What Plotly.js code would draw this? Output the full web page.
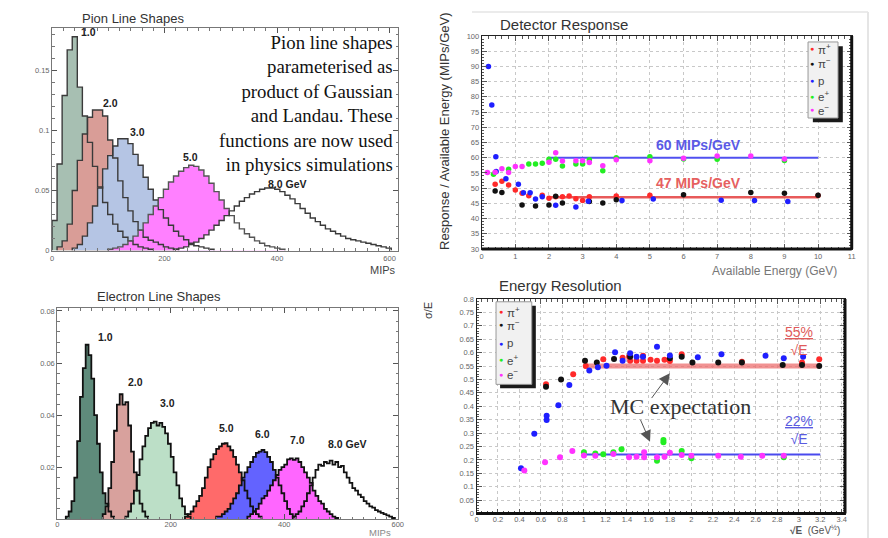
<!DOCTYPE html>
<html><head><meta charset="utf-8">
<script src="https://cdn.plot.ly/plotly-3.0.1.min.js"></script>
<style>html,body{margin:0;padding:0;background:#fff;}#chart{width:888px;height:538px;}</style>
</head><body><div id="chart"></div>
<script>
// ---------------- DATA ----------------
// Pion line shapes (bin width 9 MIPs)
const pionBinWidth = 9;
const pion1Start = 0;
const pion1 = [0.025,0.072,0.129,0.167,0.178,0.136,0.112,0.09,0.07,0.053,0.04,0.03,0.022,0.016,0.011,0.008,0.005,0.003,0.002,0.001];
const pion2Start = 9;
const pion2 = [0.003,0.008,0.022,0.05,0.075,0.097,0.111,0.117,0.117,0.112,0.092,0.077,0.058,0.044,0.033,0.024,0.017,0.011,0.0085,0.007,0.005,0.003,0.002,0.001];
const pion3Start = 36;
const pion3 = [0.002,0.005,0.012,0.023,0.037,0.052,0.068,0.079,0.087,0.093,0.093,0.089,0.08,0.071,0.061,0.051,0.042,0.034,0.027,0.021,0.016,0.012,0.009,0.006,0.004,0.003,0.002,0.001];
const pion5Start = 99;
const pion5 = [0.001,0.002,0.003,0.005,0.008,0.012,0.017,0.023,0.03,0.037,0.044,0.051,0.057,0.062,0.066,0.069,0.071,0.07,0.067,0.062,0.056,0.049,0.042,0.035,0.029,0.023,0.018,0.014,0.011,0.008,0.006,0.004,0.003,0.002,0.001];
const pion8Start = 216;
const pion8 = [0.001,0.002,0.003,0.005,0.007,0.01,0.013,0.017,0.021,0.025,0.029,0.033,0.037,0.041,0.044,0.047,0.049,0.051,0.052,0.052,0.051,0.049,0.046,0.043,0.039,0.035,0.031,0.027,0.024,0.021,0.018,0.016,0.014,0.012,0.01,0.009,0.008,0.007,0.006,0.005,0.004,0.003,0.002];
const pionLabels = ["1.0","2.0","3.0","5.0","8.0 GeV"];

// Electron line shapes (bin width 5 MIPs)
const elecBinWidth = 5;
const elec1Start = 15;
const elec1 = [0.001,0.003,0.007,0.016,0.030,0.047,0.058,0.067,0.063,0.054,0.040,0.029,0.018,0.010,0.006,0.003,0.001];
const elec2Start = 80;
const elec2 = [0.002,0.005,0.012,0.022,0.034,0.044,0.048,0.044,0.045,0.036,0.026,0.018,0.011,0.006,0.003,0.001];
const elec3Start = 120;
const elec3 = [0.001,0.003,0.006,0.011,0.017,0.023,0.028,0.032,0.035,0.037,0.0375,0.036,0.037,0.0355,0.033,0.029,0.024,0.018,0.013,0.008,0.005,0.002,0.001];
const elec5Start = 225;
const elec5 = [0.001,0.002,0.003,0.005,0.007,0.009,0.012,0.016,0.02,0.023,0.025,0.027,0.028,0.029,0.0292,0.028,0.0265,0.024,0.021,0.018,0.015,0.011,0.008,0.005,0.003,0.002,0.001];
const elec6Start = 280;
const elec6 = [0.001,0.001,0.002,0.003,0.004,0.006,0.008,0.01,0.013,0.016,0.018,0.02,0.022,0.024,0.0255,0.026,0.0266,0.0258,0.024,0.022,0.019,0.016,0.013,0.01,0.007,0.004,0.002,0.001];
const elec7Start = 335;
const elec7 = [0.001,0.002,0.003,0.004,0.006,0.008,0.009,0.011,0.013,0.015,0.017,0.019,0.02,0.021,0.023,0.0234,0.0228,0.0234,0.022,0.02,0.018,0.016,0.014,0.011,0.009,0.007,0.006,0.004,0.003,0.002,0.001,0.0005];
const elec8Start = 415;
const elec8 = [0.001,0.002,0.003,0.005,0.007,0.01,0.013,0.016,0.019,0.021,0.0205,0.022,0.0215,0.0225,0.021,0.022,0.02,0.0205,0.018,0.016,0.014,0.012,0.011,0.0095,0.0085,0.007,0.006,0.005,0.0045,0.0035,0.003,0.0025,0.002,0.0015,0.001,0.0005];
const elecLabels = ["1.0","2.0","3.0","5.0","6.0","7.0","8.0 GeV"];

// Detector response (MIPs/GeV vs available energy)
const respPiPlusX = [0.4,0.6,0.8,1.0,1.2,1.4,1.8,2.0,2.2,2.4,2.6,2.8,3.0,3.2,4.0,5.0,10.0];
const respPiPlusY = [51.3,52.3,51.0,49.4,48.3,47.5,47.7,46.7,47.2,47.2,47.4,46.5,45.9,47.2,47.4,47.7,47.6];
const respPiMinusX = [0.4,0.6,1.2,1.6,2.0,2.2,2.4,3.2,3.6,4.0,6.0,8.0,9.0,10.0];
const respPiMinusY = [49.1,48.6,44.5,44.1,44.5,47.3,45.1,45.6,45.1,46.2,47.8,48.6,48.3,47.7];
const respPX = [0.2,0.3,0.42,0.43,0.72,1.09,1.24,1.44,1.6,1.8,2.2,2.8,3.17,4.17,5.1,7.12,8.11,9.1];
const respPY = [90,77.3,60.3,55.5,53.1,51.3,48.5,48.5,46.4,47.2,44.4,43.8,45.7,45.9,46.4,46.0,45.9,45.6];
const respEPlusX = [0.35,0.8,1.4,1.6,1.8,2.0,2.2,2.4,2.8,3.0,3.2,3.6,4.0,5.0,6.0,7.0,9.0];
const respEPlusY = [54.6,56.2,57.9,57.9,58.2,59.5,59.5,57.3,57.9,57.9,59.3,55.7,60.0,60.3,59.6,59.5,59.1];
const respEMinusX = [0.17,0.4,0.6,0.8,1.0,1.2,2.0,2.2,2.4,2.8,3.0,3.2,3.6,4.0,5.0,6.0,7.0,8.0,9.0];
const respEMinusY = [55.1,55.2,56.4,55.1,57.1,57.1,58.5,61.6,58.9,59.0,59.0,58.4,57.4,59.3,59.0,59.8,60.6,60.6,59.6];
const respFitX = [2,10];
const respFitElectron = 60;
const respFitPion = 47;

// Energy resolution (sigma/E vs sqrt(E))
const resPiPlusX = [0.647,0.90,1.017,1.18,1.36,1.42,1.43,1.49,1.55,1.55,1.62,1.68,1.75,1.80,1.91,2.47,3.03,3.19];
const resPiPlusY = [0.482,0.519,0.55,0.575,0.581,0.585,0.57,0.57,0.57,0.588,0.573,0.57,0.573,0.569,0.594,0.566,0.563,0.575];
const resPiMinusX = [0.647,0.787,1.01,1.12,1.28,1.43,1.80,1.91,2.01,2.25,2.47,2.85,3.03,3.19];
const resPiMinusY = [0.473,0.50,0.570,0.563,0.576,0.585,0.579,0.585,0.563,0.563,0.563,0.554,0.554,0.55];
const resPX = [0.414,0.538,0.653,0.653,0.762,0.864,1.05,1.13,1.21,1.29,1.36,1.43,1.49,1.55,1.68,1.80,2.06,2.28,2.69,2.86,3.04];
const resPY = [0.169,0.297,0.365,0.349,0.404,0.479,0.533,0.545,0.551,0.601,0.57,0.598,0.585,0.585,0.622,0.589,0.583,0.594,0.588,0.579,0.585];
const resEPlusX = [1.0,1.106,1.18,1.274,1.35,1.68,1.74,1.74,1.91,2.0,2.86];
const resEPlusY = [0.228,0.224,0.221,0.228,0.24,0.197,0.274,0.266,0.233,0.206,0.21];
const resEMinusX = [0.445,0.638,0.777,0.892,1.0,1.106,1.274,1.42,1.49,1.56,1.56,1.68,1.75,1.80,1.91,2.0,2.25,2.46,2.66,2.86];
const resEMinusY = [0.160,0.191,0.21,0.233,0.216,0.215,0.222,0.21,0.212,0.228,0.21,0.21,0.212,0.227,0.218,0.215,0.215,0.212,0.215,0.215];
const resFitX = [1,3.2];
const resFitHadron = 0.55;
const resFitElectron = 0.22;

const legendLabels = ["π<sup>+</sup>","π<sup>−</sup>","p","e<sup>+</sup>","e<sup>−</sup>"];

// ---------------- HELPERS ----------------
const W=888,H=538;
const px = x => x/W;
const py = y => 1-y/H;
function hist(start,w,vals){
  const x=[start], y=[0];
  vals.forEach((v,i)=>{x.push(start+i*w); y.push(v);});
  x.push(start+vals.length*w); y.push(0);
  return {x,y};
}
const traces=[];
function addHists(list,w,xa,ya,lineColor,lineWidth){
  list.forEach(h=>{
    if(!h.fill) return;
    const d=hist(h.start,w,h.vals);
    traces.push({type:'scatter',mode:'lines',x:d.x,y:d.y,xaxis:xa,yaxis:ya,line:{shape:'hv',width:0,color:h.fill},fill:'tozeroy',fillcolor:h.fill,hoverinfo:'skip'});
  });
  list.forEach(h=>{
    const d=hist(h.start,w,h.vals);
    traces.push({type:'scatter',mode:'lines',x:d.x,y:d.y,xaxis:xa,yaxis:ya,line:{shape:'hv',width:lineWidth,color:h.line||lineColor},hoverinfo:'skip'});
  });
}
addHists([
  {start:pion1Start,vals:pion1,fill:'#a7bfb2'},
  {start:pion2Start,vals:pion2,fill:'#d99d97'},
  {start:pion3Start,vals:pion3,fill:'#b5c5e4'},
  {start:pion5Start,vals:pion5,fill:'#ff80ff',line:'#555'},
  {start:pion8Start,vals:pion8,fill:'#ffffff'}
],pionBinWidth,'x','y','#3a3a3a',1.4);
addHists([
  {start:elec1Start,vals:elec1,fill:'#5f8b7b'},
  {start:elec2Start,vals:elec2,fill:'#d8a19d'},
  {start:elec3Start,vals:elec3,fill:'#bcdfc7'},
  {start:elec5Start,vals:elec5,fill:'#ff6a6a'},
  {start:elec6Start,vals:elec6,fill:'#6363ff'},
  {start:elec7Start,vals:elec7,fill:'#ff66ff'},
  {start:elec8Start,vals:elec8,fill:null}
],elecBinWidth,'x3','y3','#111',1.8);

const cRed='#ff2a2a',cBlack='#111111',cBlue='#1f1fff',cGreen='#22ee22',cMag='#ff33ff';
const markerColors=[cRed,cBlack,cBlue,cGreen,cMag];
// detector response fit lines
traces.push({type:'scatter',mode:'lines',x:respFitX,y:respFitX.map(()=>respFitPion),xaxis:'x2',yaxis:'y2',line:{color:'#e85a5a',width:2.5},hoverinfo:'skip'});
traces.push({type:'scatter',mode:'lines',x:respFitX,y:respFitX.map(()=>respFitElectron),xaxis:'x2',yaxis:'y2',line:{color:'#5050f0',width:2},hoverinfo:'skip'});
[[respPiPlusX,respPiPlusY],[respPiMinusX,respPiMinusY],[respPX,respPY],[respEPlusX,respEPlusY],[respEMinusX,respEMinusY]].forEach((s,i)=>{
  traces.push({type:'scatter',mode:'markers',x:s[0],y:s[1],xaxis:'x2',yaxis:'y2',marker:{color:markerColors[i],size:5.5,symbol:'circle'},hoverinfo:'skip'});
});
// energy resolution fit lines
traces.push({type:'scatter',mode:'lines',x:resFitX,y:resFitX.map(()=>resFitHadron),xaxis:'x4',yaxis:'y4',line:{color:'rgba(236,110,110,0.75)',width:5},hoverinfo:'skip'});
traces.push({type:'scatter',mode:'lines',x:resFitX,y:resFitX.map(()=>resFitElectron),xaxis:'x4',yaxis:'y4',line:{color:'#4a4aee',width:2},hoverinfo:'skip'});
[[resPiPlusX,resPiPlusY],[resPiMinusX,resPiMinusY],[resPX,resPY],[resEPlusX,resEPlusY],[resEMinusX,resEMinusY]].forEach((s,i)=>{
  traces.push({type:'scatter',mode:'markers',x:s[0],y:s[1],xaxis:'x4',yaxis:'y4',marker:{color:markerColors[i],size:6,symbol:'circle'},hoverinfo:'skip'});
});

// ---------------- AXES ----------------
const tickFont={family:'Liberation Sans, Arial, sans-serif',size:7.5,color:'#666'};
function ax(o){
  return Object.assign({showline:true,mirror:'ticks',ticks:'inside',ticklen:5,tickcolor:'#555',linecolor:'#777',linewidth:1,
    showgrid:false,zeroline:false,tickfont:tickFont,fixedrange:true},o);
}
const gridOpts={showgrid:true,gridcolor:'#c8c8c8',griddash:'dot',gridwidth:1};

const layout={
  width:W,height:H,margin:{l:0,r:0,t:0,b:0},paper_bgcolor:'#fff',plot_bgcolor:'#fff',showlegend:false,
  font:{family:'Liberation Sans, Arial, sans-serif',color:'#333'},
  xaxis:ax({domain:[px(52),px(398)],anchor:'y',range:[0,615],tickvals:[0,200,400,600],minor:{ticks:'inside',ticklen:2.5,dtick:20,tickcolor:'#777'}}),
  yaxis:ax({domain:[py(250.5),py(28.3)],anchor:'x',range:[0,0.185],tickvals:[0,0.05,0.1,0.15],ticktext:['0','0.05','0.1','0.15'],minor:{ticks:'inside',ticklen:2.5,dtick:0.01,tickcolor:'#777'}}),
  xaxis2:ax(Object.assign({domain:[px(481.7),px(851.7)],anchor:'y2',range:[0,11],dtick:1,linecolor:'#222',minor:{ticks:'inside',ticklen:2.5,dtick:0.2,tickcolor:'#555'}},gridOpts)),
  yaxis2:ax(Object.assign({domain:[py(249),py(36)],anchor:'x2',range:[30,100],dtick:5,linecolor:'#222',minor:{ticks:'inside',ticklen:2.5,dtick:1,tickcolor:'#555'}},gridOpts)),
  xaxis3:ax({domain:[px(57.3),px(398.3)],anchor:'y3',range:[0,601],tickvals:[0,200,400,600],ticklabelstandoff:-2,minor:{ticks:'inside',ticklen:2.5,dtick:20,tickcolor:'#777'}}),
  yaxis3:ax({domain:[py(519.3),py(308.3)],anchor:'x3',range:[0,0.081],tickvals:[0.02,0.04,0.06,0.08],ticktext:['0.02','0.04','0.06','0.08'],minor:{ticks:'inside',ticklen:2.5,dtick:0.004,tickcolor:'#777'}}),
  xaxis4:ax(Object.assign({domain:[px(476.5),px(845)],anchor:'y4',range:[0,3.43],dtick:0.2,linecolor:'#222',ticklabelstandoff:-2,minor:{ticks:'inside',ticklen:2.5,dtick:0.05,tickcolor:'#555'}},gridOpts)),
  yaxis4:ax(Object.assign({domain:[py(513.5),py(299)],anchor:'x4',range:[0,0.8],dtick:0.05,linecolor:'#222',minor:{ticks:'inside',ticklen:2.5,dtick:0.01,tickcolor:'#555'}},gridOpts)),
  shapes:[],annotations:[]
};

// panel decorations
const S=layout.shapes;
S.push({type:'line',xref:'paper',yref:'paper',x0:px(868),x1:px(868),y0:py(12),y1:0,line:{color:'#dcdcdc',width:1.5}});
S.push({type:'line',xref:'paper',yref:'paper',x0:px(472),x1:px(868),y0:py(12),y1:py(12),line:{color:'#e4e4e4',width:1.5}});
// thick right/bottom frame edges
[['x2','y2'],['x4','y4']].forEach(([xa,ya])=>{
  S.push({type:'line',xref:xa+' domain',yref:ya+' domain',x0:1,x1:1,y0:0,y1:1,line:{color:'#111',width:3}});
  S.push({type:'line',xref:xa+' domain',yref:ya+' domain',x0:0,x1:1,y0:0,y1:0,line:{color:'#111',width:3}});
});
// legend boxes
function legendBox(xa,ya,x0,x1,y0,y1,sx,sy){
  S.push({type:'rect',xref:xa+' domain',yref:ya+' domain',x0:x0+sx,x1:x1+sx,y0:y0-sy,y1:y1-sy,fillcolor:'#1a1a1a',line:{width:0}});
  S.push({type:'rect',xref:xa+' domain',yref:ya+' domain',x0:x0,x1:x1,y0:y0,y1:y1,fillcolor:'#f1f1f1',line:{color:'#999',width:1}});
}
legendBox('x2','y2',0.882,0.963,0.615,0.972,0.013,0.02);
legendBox('x4','y4',0.053,0.150,0.602,0.987,0.011,0.018);

const A=layout.annotations;
function txt(t,x,y,o){A.push(Object.assign({text:t,xref:'paper',yref:'paper',x:px(x),y:py(y),showarrow:false,xanchor:'center',yanchor:'middle'},o||{}));}
const sans='Liberation Sans, Arial, sans-serif';
// titles
txt('Pion Line Shapes',80,19,{xanchor:'left',font:{size:13,color:'#333',family:sans}});
txt('Electron Line Shapes',95,297,{xanchor:'left',font:{size:13,color:'#333',family:sans}});
txt('Detector Response',498,25,{xanchor:'left',font:{size:15,color:'#333',family:sans}});
txt('Energy Resolution',497,285,{xanchor:'left',font:{size:15,color:'#333',family:sans}});
// axis titles
txt('MIPs',383,270,{font:{size:11,color:'#444',family:sans}});
txt('MIPs',380,532,{font:{size:9.5,color:'#888',family:sans}});
txt('Available Energy (GeV)',774,271,{font:{size:12,color:'#777',family:sans}});
txt('Response / Available Energy (MIPs/GeV)',445,131,{textangle:-90,font:{size:13,color:'#333',family:sans}});
txt('<b>√E</b>  (GeV<sup>½</sup>)',815,530,{font:{size:10,color:'#555',family:sans}});
txt('σ/E',428,311,{textangle:-90,font:{size:11,color:'#333',family:sans}});
// pion labels
[[88,32],[110,103],[137,132],[190,157],[287,184]].forEach((p,i)=>txt('<b>'+pionLabels[i]+'</b>',p[0],p[1],{font:{size:10.5,color:'#222',family:sans}}));
[[105,337],[135,382],[167,403],[226,428],[262,434],[297,440],[347,444]].forEach((p,i)=>txt('<b>'+elecLabels[i]+'</b>',p[0],p[1],{font:{size:10.5,color:'#222',family:sans}}));
// pion description
txt('Pion line shapes<br>parameterised as<br>product of Gaussian<br>and Landau. These<br>functions are now used<br>in physics simulations',395,103,{xanchor:'right',align:'right',font:{size:18.8,color:'#111',family:'Liberation Serif, Times New Roman, serif'}});
// fit labels
A.push({text:'<b>60 MIPs/GeV</b>',xref:'x2',yref:'y2',x:6.45,y:64.3,showarrow:false,font:{size:14,color:'#5a5ae6',family:sans}});
A.push({text:'<b>47 MIPs/GeV</b>',xref:'x2',yref:'y2',x:6.45,y:51.8,showarrow:false,font:{size:14,color:'#e66060',family:sans}});
A.push({text:'<u>55%</u><br>√E',xref:'x4',yref:'y4',x:3.0,y:0.645,showarrow:false,font:{size:14,color:'#e05a5a',family:sans}});
A.push({text:'<u>22%</u><br>√E',xref:'x4',yref:'y4',x:3.0,y:0.31,showarrow:false,font:{size:14,color:'#5a5ae0',family:sans}});
A.push({text:'MC expectation',xref:'x4',yref:'y4',x:1.895,y:0.399,showarrow:false,font:{size:22,color:'#333',family:'Liberation Serif, Times New Roman, serif'}});
A.push({text:'',xref:'x4',yref:'y4',x:1.80,y:0.523,ax:1.62,ay:0.425,axref:'x4',ayref:'y4',showarrow:true,arrowhead:2,arrowsize:2.2,arrowwidth:1,arrowcolor:'#555'});
A.push({text:'',xref:'x4',yref:'y4',x:1.615,y:0.268,ax:1.52,ay:0.355,axref:'x4',ayref:'y4',showarrow:true,arrowhead:2,arrowsize:2.2,arrowwidth:1,arrowcolor:'#555'});
// legend entries
function legendEntries(xa,ya,mx,tx,ys,fs){
  ys.forEach((yy,i)=>{
    A.push({text:'●',xref:xa+' domain',yref:ya+' domain',x:mx,y:yy,showarrow:false,xanchor:'center',yanchor:'middle',font:{size:7,color:markerColors[i]}});
    A.push({text:legendLabels[i],xref:xa+' domain',yref:ya+' domain',x:tx,y:yy,showarrow:false,xanchor:'left',yanchor:'middle',font:{size:fs,color:'#444',family:sans}});
  });
}
legendEntries('x2','y2',0.893,0.903,[0.939,0.873,0.789,0.718,0.653],11.5);
legendEntries('x4','y4',0.067,0.078,[0.941,0.879,0.794,0.716,0.649],11.5);

Plotly.newPlot('chart',traces,layout,{staticPlot:true,displayModeBar:false});
</script></body></html>
